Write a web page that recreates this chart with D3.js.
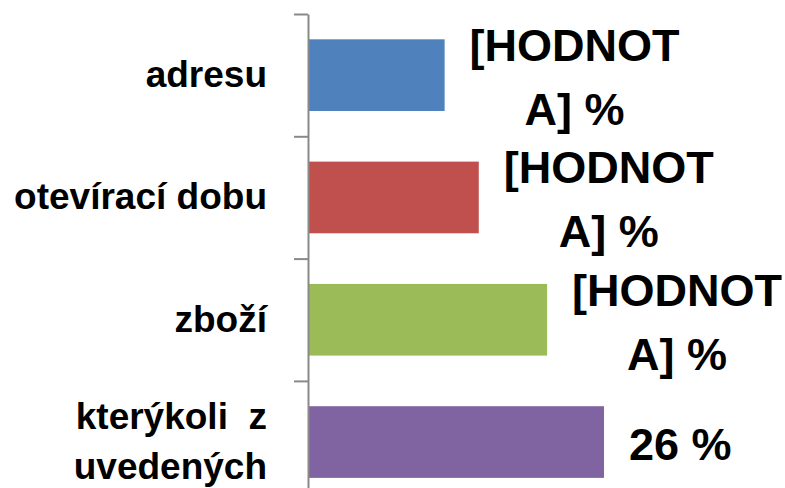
<!DOCTYPE html>
<html>
<head>
<meta charset="utf-8">
<script src="https://cdn.jsdelivr.net/npm/d3@7"></script>
<style>
  html, body { margin: 0; padding: 0; background: #fff; }
  svg { display: block; }
  text { font-family: "Liberation Sans", Arial, sans-serif; font-weight: bold; fill: #000; white-space: pre; }
</style>
</head>
<body>
<div id="chart"></div>
<script>
// data
const categories = ['adresu', 'otevírací dobu', 'zboží', 'kterýkoli z uvedených'];
const categoryLines = [['adresu'], ['otevírací dobu'], ['zboží'], ['kterýkoli  z', 'uvedených']];
const values = [12, 15, 21, 26];
const valueLabels = [['[HODNOT', 'A] %'], ['[HODNOT', 'A] %'], ['[HODNOT', 'A] %'], ['26 %']];
const colors = ['#4F81BD', '#C0504D', '#9BBB59', '#8064A2'];

const width = 785, height = 488;
const axisX = 308, plotTop = 14, step = 122.3;

const svg = d3.select('#chart').append('svg')
    .attr('width', width)
    .attr('height', height);

// scales
const scaleY = d3.scaleBand(categories, [plotTop, plotTop + step * categories.length])
    .paddingInner(0.414)
    .paddingOuter(0.207);
const scaleX = d3.scaleLinear([0, 30], [axisX, axisX + 30 * 11.385]);
const edgeY = d3.scaleLinear([0, categories.length], [plotTop, plotTop + step * categories.length]);

// bars
svg.selectAll('rect.bar')
    .data(values)
    .join('rect')
    .classed('bar', true)
    .attr('x', scaleX(0))
    .attr('y', (d, i) => scaleY(categories[i]))
    .attr('width', d => scaleX(d) - scaleX(0))
    .attr('height', scaleY.bandwidth())
    .attr('fill', (d, i) => colors[i]);

// axis with ticks on category boundaries
const axis = svg.append('g')
    .attr('transform', `translate(${axisX},0)`)
    .call(d3.axisLeft(edgeY)
        .tickValues(d3.range(categories.length + 1))
        .tickFormat('')
        .tickSize(14)
        .tickSizeOuter(0));
axis.select('.domain').attr('stroke', '#898989').attr('stroke-width', 2);
axis.selectAll('.tick line').attr('stroke', '#898989').attr('stroke-width', 2);

// category labels
const catFont = 37, catLine = 50;
svg.selectAll('text.cat')
    .data(categoryLines)
    .join('text')
    .classed('cat', true)
    .attr('text-anchor', 'end')
    .style('font-size', catFont + 'px')
    .each(function(lines, i) {
        const cy = scaleY(categories[i]) + scaleY.bandwidth() / 2;
        d3.select(this).selectAll('tspan')
            .data(lines)
            .join('tspan')
            .attr('x', 267)
            .attr('y', (l, j) => cy + 12 + (j - (lines.length - 1) / 2) * catLine)
            .text(l => l);
    });

// value labels
const valFont = 45, valLine = 64;
svg.selectAll('text.val')
    .data(valueLabels)
    .join('text')
    .classed('val', true)
    .attr('text-anchor', 'middle')
    .style('font-size', valFont + 'px')
    .each(function(lines, i) {
        const t = d3.select(this);
        const cy = scaleY(categories[i]) + scaleY.bandwidth() / 2;
        const spans = t.selectAll('tspan')
            .data(lines)
            .join('tspan')
            .attr('y', (l, j) => cy + 18 + (j - (lines.length - 1) / 2) * valLine)
            .text(l => l);
        const w = d3.max(spans.nodes(), n => n.getComputedTextLength());
        spans.attr('x', scaleX(values[i]) + 25 + w / 2);
    });
</script>
</body>
</html>
